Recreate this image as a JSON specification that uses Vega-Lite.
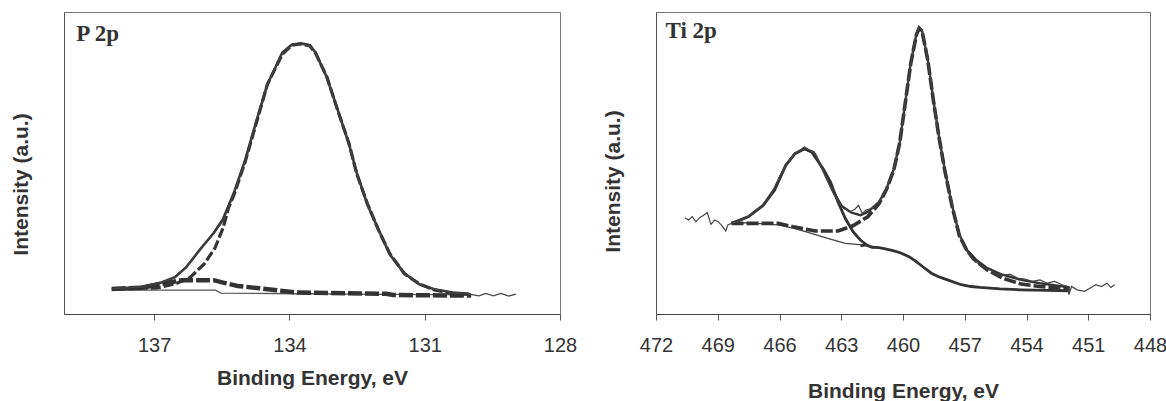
{
"$schema": "https://vega.github.io/schema/vega-lite/v6.json",
"padding": {"left": 10, "top": 11, "right": 0, "bottom": 0},
"background": "white",
"config": {
  "view": {"stroke": "#777", "strokeWidth": 1},
  "axis": {"grid": false, "labelFont": "Liberation Sans", "titleFont": "Liberation Sans", "labelColor": "#333", "titleColor": "#333", "domainColor": "#555", "tickColor": "#555"},
  "concat": {"spacing": 24}
},
"datasets": {
  "p2p": [
    {"s":"data","be":137.94,"i":8.3},{"s":"data","be":137.28,"i":9.0},{"s":"data","be":136.87,"i":10.3},{"s":"data","be":136.54,"i":12.0},{"s":"data","be":136.29,"i":15.3},{"s":"data","be":135.97,"i":21.9},{"s":"data","be":135.68,"i":26.6},{"s":"data","be":135.47,"i":30.9},{"s":"data","be":135.23,"i":39.9},{"s":"data","be":134.98,"i":50.8},{"s":"data","be":134.73,"i":64.1},{"s":"data","be":134.49,"i":76.3},{"s":"data","be":134.16,"i":86.3},{"s":"data","be":133.95,"i":89.0},{"s":"data","be":133.75,"i":89.4},{"s":"data","be":133.55,"i":88.8},{"s":"data","be":133.42,"i":86.3},{"s":"data","be":133.17,"i":78.5},{"s":"data","be":132.93,"i":67.4},{"s":"data","be":132.68,"i":56.5},{"s":"data","be":132.51,"i":46.5},{"s":"data","be":132.27,"i":36.5},{"s":"data","be":132.02,"i":27.6},{"s":"data","be":131.77,"i":19.9},{"s":"data","be":131.45,"i":13.3},{"s":"data","be":131.12,"i":10.0},{"s":"data","be":130.79,"i":8.3},{"s":"data","be":130.38,"i":7.0},{"s":"data","be":130.01,"i":6.6},{"s":"data","be":129.80,"i":6.0},{"s":"data","be":129.64,"i":6.8},{"s":"data","be":129.48,"i":6.0},{"s":"data","be":129.31,"i":6.8},{"s":"data","be":129.14,"i":5.9},{"s":"data","be":128.98,"i":6.6},
    {"s":"fit","be":137.94,"i":8.3},{"s":"fit","be":137.28,"i":9.0},{"s":"fit","be":136.87,"i":10.3},{"s":"fit","be":136.54,"i":12.2},{"s":"fit","be":136.29,"i":15.5},{"s":"fit","be":135.97,"i":21.6},{"s":"fit","be":135.68,"i":26.8},{"s":"fit","be":135.47,"i":31.5},{"s":"fit","be":135.23,"i":40.2},{"s":"fit","be":134.98,"i":51.0},{"s":"fit","be":134.73,"i":64.0},{"s":"fit","be":134.49,"i":76.0},{"s":"fit","be":134.16,"i":86.5},{"s":"fit","be":133.95,"i":89.2},{"s":"fit","be":133.75,"i":89.6},{"s":"fit","be":133.55,"i":89.0},{"s":"fit","be":133.42,"i":86.5},{"s":"fit","be":133.17,"i":78.3},{"s":"fit","be":132.93,"i":67.6},{"s":"fit","be":132.68,"i":56.3},{"s":"fit","be":132.51,"i":46.8},{"s":"fit","be":132.27,"i":36.2},{"s":"fit","be":132.02,"i":27.8},{"s":"fit","be":131.77,"i":19.6},{"s":"fit","be":131.45,"i":13.5},{"s":"fit","be":131.12,"i":9.8},{"s":"fit","be":130.79,"i":8.2},{"s":"fit","be":130.38,"i":7.1},{"s":"fit","be":130.01,"i":6.7},
    {"s":"comp","be":137.94,"i":8.3},{"s":"comp","be":136.95,"i":8.6},{"s":"comp","be":136.53,"i":10.0},{"s":"comp","be":136.21,"i":12.0},{"s":"comp","be":135.89,"i":16.6},{"s":"comp","be":135.65,"i":21.9},{"s":"comp","be":135.47,"i":28.6},{"s":"comp","be":135.35,"i":35.2},{"s":"comp","be":135.23,"i":39.5},{"s":"comp","be":134.98,"i":50.5},{"s":"comp","be":134.73,"i":63.5},{"s":"comp","be":134.49,"i":76.0},{"s":"comp","be":134.16,"i":86.0},{"s":"comp","be":133.95,"i":89.0},{"s":"comp","be":133.75,"i":89.4},{"s":"comp","be":133.55,"i":88.8},{"s":"comp","be":133.42,"i":86.3},{"s":"comp","be":133.17,"i":78.5},{"s":"comp","be":132.93,"i":67.4},{"s":"comp","be":132.68,"i":56.5},{"s":"comp","be":132.51,"i":46.5},{"s":"comp","be":132.27,"i":36.5},{"s":"comp","be":132.02,"i":27.6},{"s":"comp","be":131.77,"i":19.9},{"s":"comp","be":131.45,"i":13.3},{"s":"comp","be":131.12,"i":10.0},{"s":"comp","be":130.79,"i":8.0},{"s":"comp","be":130.38,"i":6.8},{"s":"comp","be":130.01,"i":6.5},
    {"s":"bg","be":137.94,"i":8.3},{"s":"bg","be":137.28,"i":8.7},{"s":"bg","be":136.79,"i":10.1},{"s":"bg","be":136.38,"i":11.2},{"s":"bg","be":135.68,"i":11.2},{"s":"bg","be":135.47,"i":10.4},{"s":"bg","be":135.15,"i":9.3},{"s":"bg","be":134.66,"i":8.5},{"s":"bg","be":133.83,"i":7.1},{"s":"bg","be":131.86,"i":6.7},{"s":"bg","be":131.70,"i":6.3},{"s":"bg","be":129.97,"i":6.1},
    {"s":"bg2","be":137.94,"i":7.9},{"s":"bg2","be":135.64,"i":7.9},{"s":"bg2","be":135.52,"i":6.9},{"s":"bg2","be":133.83,"i":6.7},{"s":"bg2","be":131.77,"i":6.5},{"s":"bg2","be":129.97,"i":6.3}
  ],
  "ti2p": [
    {"s":"data","be":470.60,"i":31.9},{"s":"data","be":470.42,"i":31.1},{"s":"data","be":470.24,"i":32.2},{"s":"data","be":470.06,"i":30.5},{"s":"data","be":469.88,"i":31.9},{"s":"data","be":469.69,"i":32.7},{"s":"data","be":469.51,"i":33.6},{"s":"data","be":469.33,"i":29.7},{"s":"data","be":469.15,"i":31.1},{"s":"data","be":468.97,"i":30.5},{"s":"data","be":468.79,"i":29.2},{"s":"data","be":468.61,"i":27.5},{"s":"data","be":468.51,"i":29.5},{"s":"data","be":468.33,"i":30.0},{"s":"data","be":467.70,"i":31.6},{"s":"data","be":466.97,"i":34.9},{"s":"data","be":466.43,"i":39.3},{"s":"data","be":465.88,"i":47.0},{"s":"data","be":465.34,"i":52.5},{"s":"data","be":464.79,"i":55.3},{"s":"data","be":464.25,"i":53.1},{"s":"data","be":463.70,"i":44.8},{"s":"data","be":463.34,"i":39.3},{"s":"data","be":462.98,"i":35.5},{"s":"data","be":462.61,"i":33.8},{"s":"data","be":462.34,"i":34.7},{"s":"data","be":462.16,"i":36.0},{"s":"data","be":461.98,"i":33.3},{"s":"data","be":461.80,"i":34.4},{"s":"data","be":461.52,"i":34.9},{"s":"data","be":461.16,"i":37.1},{"s":"data","be":460.80,"i":41.5},{"s":"data","be":460.44,"i":48.1},{"s":"data","be":460.16,"i":56.9},{"s":"data","be":459.89,"i":70.1},{"s":"data","be":459.62,"i":83.3},{"s":"data","be":459.38,"i":92.1},{"s":"data","be":459.22,"i":95.2},{"s":"data","be":459.07,"i":94.3},{"s":"data","be":458.89,"i":87.7},{"s":"data","be":458.71,"i":80.0},{"s":"data","be":458.53,"i":71.2},{"s":"data","be":458.35,"i":62.4},{"s":"data","be":458.08,"i":51.4},{"s":"data","be":457.80,"i":42.6},{"s":"data","be":457.53,"i":33.8},{"s":"data","be":457.26,"i":26.2},{"s":"data","be":456.99,"i":21.8},{"s":"data","be":456.62,"i":17.9},{"s":"data","be":456.26,"i":16.3},{"s":"data","be":455.90,"i":15.2},{"s":"data","be":455.53,"i":13.5},{"s":"data","be":455.17,"i":12.7},{"s":"data","be":454.81,"i":13.2},{"s":"data","be":454.44,"i":11.9},{"s":"data","be":454.08,"i":11.6},{"s":"data","be":453.72,"i":10.8},{"s":"data","be":453.35,"i":11.3},{"s":"data","be":452.99,"i":10.2},{"s":"data","be":452.63,"i":10.8},{"s":"data","be":452.27,"i":9.7},{"s":"data","be":451.99,"i":9.1},{"s":"data","be":451.94,"i":6.4},{"s":"data","be":451.81,"i":9.1},{"s":"data","be":451.54,"i":8.0},{"s":"data","be":451.18,"i":7.5},{"s":"data","be":450.90,"i":8.6},{"s":"data","be":450.63,"i":9.7},{"s":"data","be":450.36,"i":9.1},{"s":"data","be":450.09,"i":10.2},{"s":"data","be":449.90,"i":8.8},{"s":"data","be":449.72,"i":9.7},
    {"s":"fit","be":468.33,"i":30.0},{"s":"fit","be":467.52,"i":32.2},{"s":"fit","be":466.79,"i":36.0},{"s":"fit","be":466.24,"i":41.5},{"s":"fit","be":465.70,"i":49.2},{"s":"fit","be":465.25,"i":53.1},{"s":"fit","be":464.79,"i":54.7},{"s":"fit","be":464.34,"i":53.6},{"s":"fit","be":463.88,"i":47.6},{"s":"fit","be":463.43,"i":41.0},{"s":"fit","be":462.98,"i":35.8},{"s":"fit","be":462.52,"i":33.6},{"s":"fit","be":462.07,"i":32.7},{"s":"fit","be":461.71,"i":33.8},{"s":"fit","be":461.16,"i":37.1},{"s":"fit","be":460.80,"i":41.5},{"s":"fit","be":460.44,"i":48.1},{"s":"fit","be":460.16,"i":56.9},{"s":"fit","be":459.89,"i":70.1},{"s":"fit","be":459.62,"i":83.3},{"s":"fit","be":459.35,"i":92.6},{"s":"fit","be":459.22,"i":94.8},{"s":"fit","be":459.07,"i":93.7},{"s":"fit","be":458.80,"i":84.4},{"s":"fit","be":458.53,"i":71.2},{"s":"fit","be":458.26,"i":59.1},{"s":"fit","be":457.98,"i":48.1},{"s":"fit","be":457.62,"i":36.0},{"s":"fit","be":457.26,"i":26.2},{"s":"fit","be":456.89,"i":21.2},{"s":"fit","be":456.44,"i":17.9},{"s":"fit","be":455.90,"i":15.2},{"s":"fit","be":455.17,"i":13.0},{"s":"fit","be":454.26,"i":11.3},{"s":"fit","be":453.35,"i":10.2},{"s":"fit","be":451.90,"i":8.8},
    {"s":"p32","be":468.33,"i":30.0},{"s":"p32","be":466.06,"i":30.0},{"s":"p32","be":465.34,"i":28.9},{"s":"p32","be":464.25,"i":27.5},{"s":"p32","be":463.16,"i":27.5},{"s":"p32","be":462.43,"i":29.2},{"s":"p32","be":461.71,"i":32.2},{"s":"p32","be":461.16,"i":36.6},{"s":"p32","be":460.80,"i":41.3},{"s":"p32","be":460.44,"i":47.9},{"s":"p32","be":460.16,"i":56.7},{"s":"p32","be":459.89,"i":69.9},{"s":"p32","be":459.62,"i":83.1},{"s":"p32","be":459.35,"i":92.4},{"s":"p32","be":459.22,"i":94.6},{"s":"p32","be":459.07,"i":93.5},{"s":"p32","be":458.80,"i":84.2},{"s":"p32","be":458.53,"i":71.0},{"s":"p32","be":458.26,"i":58.9},{"s":"p32","be":457.98,"i":47.9},{"s":"p32","be":457.62,"i":35.8},{"s":"p32","be":457.26,"i":25.9},{"s":"p32","be":456.89,"i":20.9},{"s":"p32","be":456.44,"i":17.4},{"s":"p32","be":455.90,"i":14.6},{"s":"p32","be":455.17,"i":11.9},{"s":"p32","be":454.26,"i":9.9},{"s":"p32","be":453.35,"i":9.1},{"s":"p32","be":451.90,"i":8.4},
    {"s":"p12","be":468.33,"i":30.0},{"s":"p12","be":467.52,"i":32.2},{"s":"p12","be":466.79,"i":36.0},{"s":"p12","be":466.24,"i":41.0},{"s":"p12","be":465.70,"i":49.2},{"s":"p12","be":465.25,"i":53.1},{"s":"p12","be":464.79,"i":54.7},{"s":"p12","be":464.43,"i":53.6},{"s":"p12","be":463.88,"i":48.1},{"s":"p12","be":463.52,"i":43.7},{"s":"p12","be":463.16,"i":37.1},{"s":"p12","be":462.80,"i":31.6},{"s":"p12","be":462.43,"i":27.3},{"s":"p12","be":462.07,"i":24.5},{"s":"p12","be":461.71,"i":22.6},
    {"s":"shir","be":468.33,"i":30.3},{"s":"shir","be":467.33,"i":30.1},{"s":"shir","be":466.06,"i":29.5},{"s":"shir","be":465.34,"i":28.4},{"s":"shir","be":464.61,"i":27.0},{"s":"shir","be":463.70,"i":25.1},{"s":"shir","be":462.80,"i":23.4},{"s":"shir","be":461.98,"i":22.9},{"s":"shir","be":461.16,"i":22.0},{"s":"shir","be":460.44,"i":20.9},{"s":"shir","be":459.71,"i":19.0},{"s":"shir","be":459.16,"i":16.3},{"s":"shir","be":458.62,"i":13.5},{"s":"shir","be":458.08,"i":11.9},{"s":"shir","be":457.17,"i":9.7},{"s":"shir","be":456.26,"i":8.8},{"s":"shir","be":454.26,"i":8.0},{"s":"shir","be":451.90,"i":7.7},
    {"s":"bgt","be":462.07,"i":22.6},{"s":"bgt","be":461.80,"i":22.9},{"s":"bgt","be":461.50,"i":22.1},{"s":"bgt","be":461.16,"i":22.0},{"s":"bgt","be":460.80,"i":21.5},{"s":"bgt","be":460.44,"i":20.9},{"s":"bgt","be":460.10,"i":20.2},{"s":"bgt","be":459.71,"i":19.0},{"s":"bgt","be":459.40,"i":17.6},{"s":"bgt","be":459.16,"i":16.3},{"s":"bgt","be":458.90,"i":14.9},{"s":"bgt","be":458.62,"i":13.5},{"s":"bgt","be":458.30,"i":12.4},{"s":"bgt","be":458.08,"i":11.9},{"s":"bgt","be":457.60,"i":10.7},{"s":"bgt","be":457.17,"i":9.7},{"s":"bgt","be":456.70,"i":9.1},{"s":"bgt","be":456.26,"i":8.8},{"s":"bgt","be":455.30,"i":8.3},{"s":"bgt","be":454.26,"i":8.0},{"s":"bgt","be":453.00,"i":7.8},{"s":"bgt","be":451.90,"i":7.7}
  ]
},
"hconcat": [
  {
    "width": 496, "height": 302,
    "data": {"name": "p2p"},
    "encoding": {
      "x": {"field": "be", "type": "quantitative",
        "scale": {"domain": [128, 139], "reverse": true, "nice": false, "zero": false},
        "axis": {"values": [137, 134, 131, 128], "title": "Binding Energy, eV", "titleFontSize": 21, "titleFontWeight": "bold", "titleY": 64, "titleBaseline": "middle", "labelFontSize": 20, "labelPadding": 25, "labelBaseline": "middle", "tickSize": 6, "labelFlush": false, "labelOverlap": false, "domainColor": "#444"}},
      "y": {"field": "i", "type": "quantitative",
        "scale": {"domain": [0, 100], "nice": false},
        "axis": {"title": "Intensity (a.u.)", "labels": false, "ticks": false, "titleFontSize": 21, "titleFontWeight": "bold", "titleX": -42.5, "titleY": 172, "titleBaseline": "middle", "titleAlign": "center", "titleAngle": -90}}
    },
    "layer": [
      {"transform": [{"filter": {"field": "s", "equal": "bg2"}}], "mark": {"type": "line", "strokeWidth": 1.3, "color": "#555"}},
      {"transform": [{"filter": {"field": "s", "equal": "bg"}}], "mark": {"type": "line", "strokeWidth": 4.5, "strokeDash": [14, 3], "color": "#333"}},
      {"transform": [{"filter": {"field": "s", "equal": "comp"}}], "mark": {"type": "line", "strokeWidth": 3.2, "strokeDash": [10, 3], "color": "#333"}},
      {"transform": [{"filter": {"field": "s", "equal": "fit"}}], "mark": {"type": "line", "strokeWidth": 2.6, "color": "#333"}},
      {"transform": [{"filter": {"field": "s", "equal": "data"}}], "mark": {"type": "line", "strokeWidth": 1.2, "color": "#444"}},
      {"data": {"values": [{"be": 138.73, "i": 90.4, "t": "P 2p"}]},
       "mark": {"type": "text", "font": "Liberation Serif", "fontWeight": "bold", "fontSize": 23, "align": "left", "baseline": "alphabetic", "color": "#333"},
       "encoding": {"text": {"field": "t"}}}
    ]
  },
  {
    "width": 494, "height": 302,
    "data": {"name": "ti2p"},
    "encoding": {
      "x": {"field": "be", "type": "quantitative",
        "scale": {"domain": [448, 472], "reverse": true, "nice": false, "zero": false},
        "axis": {"values": [472, 469, 466, 463, 460, 457, 454, 451, 448], "title": "Binding Energy, eV", "titleFontSize": 21, "titleFontWeight": "bold", "titleY": 77, "titleBaseline": "middle", "labelFontSize": 20, "labelPadding": 25, "labelBaseline": "middle", "tickSize": 6, "labelFlush": false, "labelOverlap": false, "domainColor": "#444"}},
      "y": {"field": "i", "type": "quantitative",
        "scale": {"domain": [0, 100], "nice": false},
        "axis": {"title": "Intensity (a.u.)", "labels": false, "ticks": false, "titleFontSize": 21, "titleFontWeight": "bold", "titleX": -42.3, "titleY": 169, "titleBaseline": "middle", "titleAlign": "center", "titleAngle": -90}}
    },
    "layer": [
      {"transform": [{"filter": {"field": "s", "equal": "shir"}}], "mark": {"type": "line", "strokeWidth": 1.3, "color": "#444"}},
      {"transform": [{"filter": {"field": "s", "equal": "bgt"}}], "mark": {"type": "line", "strokeWidth": 2.8, "color": "#333"}},
      {"transform": [{"filter": {"field": "s", "equal": "p12"}}], "mark": {"type": "line", "strokeWidth": 2.8, "color": "#333"}},
      {"transform": [{"filter": {"field": "s", "equal": "p32"}}], "mark": {"type": "line", "strokeWidth": 3.6, "strokeDash": [12, 3], "color": "#333"}},
      {"transform": [{"filter": {"field": "s", "equal": "fit"}}], "mark": {"type": "line", "strokeWidth": 2.4, "color": "#333"}},
      {"transform": [{"filter": {"field": "s", "equal": "data"}}], "mark": {"type": "line", "strokeWidth": 1.2, "color": "#444"}},
      {"data": {"values": [{"be": 471.54, "i": 91.5, "t": "Ti 2p"}]},
       "mark": {"type": "text", "font": "Liberation Serif", "fontWeight": "bold", "fontSize": 23, "align": "left", "baseline": "alphabetic", "color": "#333"},
       "encoding": {"text": {"field": "t"}}}
    ]
  }
]
}
